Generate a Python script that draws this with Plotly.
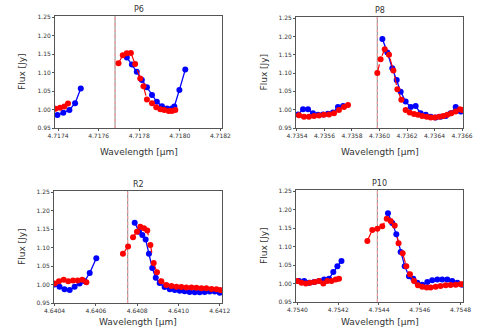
import plotly.graph_objects as go

# ---------------- data ----------------
titles = ["P6", "P8", "R2", "P10"]
line_centers = [4.717681, 4.735984, 4.640754, 4.754392]

# P6
p6_blue_wl = [4.717397, 4.717426, 4.717456, 4.717484, 4.717512, None,
              4.717739, 4.717764, 4.717788, 4.717813, 4.717838, 4.717863, 4.717887,
              4.717912, 4.717937, 4.717961, 4.717973, 4.717998, 4.718027]
p6_blue_fx = [0.985, 0.991, 0.999, 1.017, 1.057, None,
              1.141, 1.122, 1.102, 1.080, 1.060, 1.039, 1.021,
              1.009, 1.003, 1.003, 1.008, 1.053, 1.108]
p6_red_wl = [4.717387, 4.717410, 4.717431, 4.717449, None,
             4.717698, 4.717719, 4.717739, 4.717759, 4.717780, 4.717805, 4.717821,
             4.717838, 4.717863, 4.717884, 4.717904, 4.717923, 4.717945, 4.717961, 4.717978]
p6_red_fx = [1.002, 1.005, 1.008, 1.016, None,
             1.125, 1.147, 1.152, 1.153, 1.123, 1.084, 1.063,
             1.027, 1.017, 1.006, 1.001, 0.999, 0.996, 0.996, 0.999]

# P8
p8_blue_wl = [4.735407, 4.735444, 4.735480, 4.735516, 4.735553, 4.735589, 4.735625, 4.735662,
              4.735698, 4.735735, None,
              4.736021, 4.736057, 4.736093, 4.736125, 4.736154, 4.736190, 4.736227, 4.736263,
              4.736299, 4.736336, 4.736372, 4.736408, 4.736445, 4.736481, 4.736517, 4.736554, 4.736590]
p8_blue_fx = [0.987, 1.001, 1.001, 0.990, 0.986, 0.987, 0.989, 0.992,
              1.007, 1.010, None,
              1.193, 1.156, 1.113, 1.081, 1.049, 1.022, 1.007, 1.010,
              0.990, 0.986, 0.981, 0.979, 0.981, 0.983, 0.990, 1.007, 0.995]
p8_red_wl = [4.735415, 4.735451, 4.735487, 4.735524, 4.735560, 4.735596, 4.735633, 4.735669,
             4.735705, 4.735742, 4.735771, None,
             4.735984, 4.736008, 4.736038, 4.736069, 4.736101, 4.736130, 4.736159, 4.736190,
             4.736219, 4.736251, 4.736280, 4.736311, 4.736343, 4.736372, 4.736401, 4.736433,
             4.736464, 4.736493, 4.736522, 4.736554, 4.736585, 4.736602]
p8_red_fx = [0.985, 0.981, 0.981, 0.983, 0.984, 0.986, 0.987, 0.990,
             0.999, 1.007, 1.013, None,
             1.100, 1.138, 1.165, 1.150, 1.107, 1.056, 1.027, 0.999,
             0.992, 0.988, 0.986, 0.983, 0.981, 0.979, 0.979, 0.981,
             0.983, 0.986, 0.990, 0.995, 1.001, 0.999]

# R2
r2_blue_wl = [4.640400, 4.640424, 4.640448, 4.640473, 4.640497, 4.640521, 4.640545, 4.640570,
              4.640602, None,
              4.640788, 4.640809, 4.640825, 4.640841, 4.640857, 4.640873, 4.640890, 4.640909,
              4.640933, 4.640958, 4.640982, 4.641006, 4.641030, 4.641054, 4.641079, 4.641103,
              4.641127, 4.641151, 4.641176, 4.641200]
r2_blue_fx = [1.000, 0.994, 0.987, 0.985, 0.994, 1.003, 1.009, 1.031,
              1.071, None,
              1.167, 1.143, 1.134, 1.122, 1.083, 1.045, 1.018, 1.004,
              0.993, 0.987, 0.985, 0.983, 0.982, 0.980, 0.979, 0.979,
              0.980, 0.981, 0.981, 0.978]
r2_red_wl = [4.640400, 4.640421, 4.640444, 4.640466, 4.640489, 4.640512, 4.640534, 4.640554, None,
             4.640731, 4.640756, 4.640780, 4.640799, 4.640815, 4.640833, 4.640849, 4.640864,
             4.640880, 4.640896, 4.640917, 4.640941, 4.640966, 4.640990, 4.641014, 4.641038,
             4.641063, 4.641087, 4.641111, 4.641135, 4.641160, 4.641184, 4.641203]
r2_red_fx = [1.003, 1.009, 1.013, 1.009, 1.011, 1.011, 1.013, 1.006, None,
             1.083, 1.103, 1.128, 1.143, 1.156, 1.152, 1.146, 1.107,
             1.058, 1.033, 1.009, 0.999, 0.996, 0.994, 0.993, 0.992,
             0.992, 0.991, 0.990, 0.990, 0.988, 0.987, 0.985]

# P10
p10_blue_wl = [4.754008, 4.754033, 4.754057, 4.754082, 4.754106, 4.754131, 4.754155, 4.754176,
               4.754196, 4.754216, None,
               4.754444, 4.754465, 4.754485, 4.754506, 4.754526, 4.754547, 4.754568, 4.754588,
               4.754612, 4.754637, 4.754661, 4.754686, 4.754710, 4.754735, 4.754759, 4.754784, 4.754808]
p10_blue_fx = [1.007, 1.007, 1.002, 1.004, 1.007, 1.011, 1.013, 1.031,
               1.047, 1.061, None,
               1.190, 1.164, 1.133, 1.085, 1.047, 1.020, 1.013, 1.002,
               0.997, 1.004, 1.009, 1.011, 1.011, 1.011, 1.007, 1.002, 0.997]
p10_red_wl = [4.754000, 4.754020, 4.754041, 4.754062, 4.754085, 4.754106, 4.754127, 4.754147,
              4.754167, 4.754188, 4.754204, None,
              4.754343, 4.754367, 4.754392, 4.754416, 4.754438, 4.754457, 4.754477, 4.754496,
              4.754516, 4.754534, 4.754552, 4.754572, 4.754591, 4.754612, 4.754634, 4.754653,
              4.754678, 4.754702, 4.754727, 4.754751, 4.754776, 4.754800, 4.754812]
p10_red_fx = [1.007, 1.002, 1.000, 1.002, 1.004, 1.007, 1.000, 1.007,
              1.007, 1.011, 1.013, None,
              1.115, 1.145, 1.148, 1.155, 1.175, 1.169, 1.157, 1.109,
              1.082, 1.047, 1.025, 1.007, 0.995, 0.991, 0.989, 0.989,
              0.991, 0.993, 0.995, 0.996, 0.997, 0.998, 0.998]

x_ticks = [
    [4.7174, 4.7176, 4.7178, 4.7180, 4.7182],
    [4.7354, 4.7356, 4.7358, 4.7360, 4.7362, 4.7364, 4.7366],
    [4.6404, 4.6406, 4.6408, 4.6410, 4.6412],
    [4.7540, 4.7542, 4.7544, 4.7546, 4.7548],
]
x_ranges = [
    [4.717385, 4.718208],
    [4.735393, 4.736607],
    [4.640397, 4.641211],
    [4.753993, 4.754812],
]
y_ticks = [0.95, 1.00, 1.05, 1.10, 1.15, 1.20, 1.25]
y_range = [0.95, 1.253]
x_title = "Wavelength [μm]"
y_title = "Flux [Jy]"

blue_sets = [(p6_blue_wl, p6_blue_fx), (p8_blue_wl, p8_blue_fx),
             (r2_blue_wl, r2_blue_fx), (p10_blue_wl, p10_blue_fx)]
red_sets = [(p6_red_wl, p6_red_fx), (p8_red_wl, p8_red_fx),
            (r2_red_wl, r2_red_fx), (p10_red_wl, p10_red_fx)]

# ---------------- layout ----------------
W, H = 489, 333


def px(v):
    return v / W


def py(v):
    return 1 - v / H


x_doms = [[px(55), px(222)], [px(296), px(463)], [px(54), px(222)], [px(296), px(463)]]
y_doms = [[py(128), py(16)], [py(128), py(17)], [py(303), py(191)], [py(302), py(190)]]
x_title_y = [py(152), py(152), py(322), py(322)]
y_title_x = [px(22), px(264), px(22), px(264)]

fig = go.Figure()
FONT = "DejaVu Sans"
AX = "#555555"
TXT = "#333333"

for i in range(4):
    xa = "x" if i == 0 else f"x{i+1}"
    ya = "y" if i == 0 else f"y{i+1}"
    bw, bf = blue_sets[i]
    rw, rf = red_sets[i]
    fig.add_trace(go.Scatter(x=bw, y=bf, mode="lines+markers", xaxis=xa, yaxis=ya,
                             line=dict(color="#0000ff", width=1.3),
                             marker=dict(color="#0000ff", size=6), showlegend=False))
    fig.add_trace(go.Scatter(x=rw, y=rf, mode="lines+markers", xaxis=xa, yaxis=ya,
                             line=dict(color="#ff0000", width=1.2, dash="dash"),
                             marker=dict(color="#ff0000", size=6), showlegend=False))
    fig.add_shape(type="line", xref=xa, yref=f"{ya} domain",
                  x0=line_centers[i], x1=line_centers[i], y0=0, y1=1,
                  line=dict(color="#888888", width=1), layer="below")
    fig.add_shape(type="line", xref=xa, yref=f"{ya} domain",
                  x0=line_centers[i], x1=line_centers[i], y0=0, y1=1,
                  line=dict(color="#ff9999", width=1, dash="dot"), layer="below")

    xkey = "xaxis" if i == 0 else f"xaxis{i+1}"
    ykey = "yaxis" if i == 0 else f"yaxis{i+1}"
    fig.layout[xkey] = dict(
        domain=x_doms[i], anchor=ya, range=x_ranges[i],
        tickvals=x_ticks[i], tickformat=".4f",
        showline=True, mirror=True, linecolor=AX, linewidth=1,
        ticks="outside", ticklen=2, tickcolor=AX,
        showgrid=False, zeroline=False,
        tickfont=dict(size=6, color=TXT, family=FONT),
        automargin=False,
    )
    fig.layout[ykey] = dict(
        domain=y_doms[i], anchor=xa, range=y_range,
        tickvals=y_ticks, tickformat=".2f",
        showline=True, mirror=True, linecolor=AX, linewidth=1,
        ticks="outside", ticklen=2, tickcolor=AX,
        showgrid=False, zeroline=False,
        tickfont=dict(size=6, color=TXT, family=FONT),
        automargin=False,
    )
    fig.add_annotation(text=titles[i], xref="paper", yref="paper",
                       x=(x_doms[i][0] + x_doms[i][1]) / 2, y=y_doms[i][1],
                       yanchor="bottom", xanchor="center", showarrow=False, yshift=0,
                       font=dict(size=8, color=TXT, family=FONT))
    fig.add_annotation(text=x_title, xref="paper", yref="paper",
                       x=(x_doms[i][0] + x_doms[i][1]) / 2, y=x_title_y[i],
                       yanchor="middle", xanchor="center", showarrow=False,
                       font=dict(size=9, color=TXT, family=FONT))
    fig.add_annotation(text=y_title, xref="paper", yref="paper",
                       x=y_title_x[i], y=(y_doms[i][0] + y_doms[i][1]) / 2,
                       yanchor="middle", xanchor="center", showarrow=False, textangle=-90,
                       font=dict(size=9, color=TXT, family=FONT))

fig.update_layout(width=W, height=H, margin=dict(l=0, r=0, t=0, b=0),
                  paper_bgcolor="white", plot_bgcolor="white")

# remove the browser's default 8px body margin so the figure sits at the window origin
fig.write_html("out.html",
               config={"displayModeBar": False},
               post_script="document.body.style.margin='0';document.body.style.overflow='hidden';")
